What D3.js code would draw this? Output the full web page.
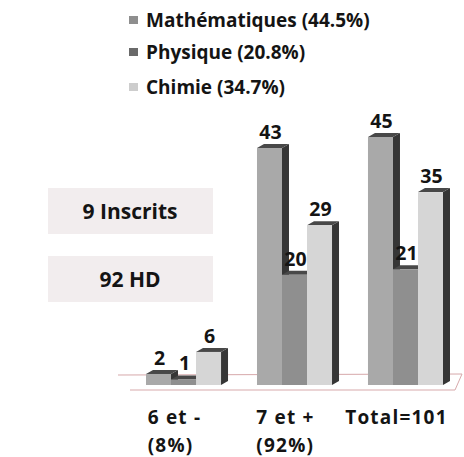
<!DOCTYPE html>
<html>
<head>
<meta charset="utf-8">
<script src="https://cdn.jsdelivr.net/npm/d3@7.9.0/dist/d3.min.js"></script>
<style>
  html, body { margin: 0; padding: 0; background: #fff; }
  svg { display: block; }
  text { font-family: "Open Sans", sans-serif; font-weight: bold; fill: #141414; }
</style>
</head>
<body>
<div id="chart"></div>
<script>
const categories = ['6 et -|(8%)', '7 et +|(92%)', 'Total=101'];
const series = ['Mathématiques (44.5%)', 'Physique (20.8%)', 'Chimie (34.7%)'];
const mathValues = [2, 43, 45];
const physValues = [1, 20, 21];
const chimValues = [6, 29, 35];
const infoBoxes = ['9 Inscrits', '92 HD'];

const width = 464, height = 457;
const svg = d3.select('#chart').append('svg')
  .attr('width', width)
  .attr('height', height);

const frontColors = ['#a9a9a9', '#8f8f8f', '#d6d6d6'];
const legendColors = ['#8e8e8e', '#6a6a6a', '#cdcdcd'];
const sideColor = '#363636';
const topColor = '#484848';
const depth = { dx: 7, dy: -4 };

const x0 = d3.scaleBand()
  .domain(categories)
  .range([146, 443])
  .paddingInner(0.324)
  .paddingOuter(0);

const x1 = d3.scaleBand()
  .domain(series)
  .range([0, x0.bandwidth()])
  .padding(0);

const y = d3.scaleLinear()
  .domain([0, 45])
  .range([385, 137]);

// floor
const floorBack = y(0) - 10;
const floorFront = y(0) + 5;
svg.append('path')
  .attr('d', `M118,${floorBack} L462,${floorBack - 1} L455,${floorFront} L130,${floorFront}`)
  .attr('fill', 'none')
  .attr('stroke', '#d7a9ab')
  .attr('stroke-width', 1);

// legend
const legend = svg.append('g').attr('transform', 'translate(129, 20)');
const legendRowY = [0, 32, 67];
series.forEach((s, i) => {
  const row = legend.append('g').attr('transform', `translate(0, ${legendRowY[i]})`);
  row.append('rect')
    .attr('x', 0).attr('y', -4)
    .attr('width', 9).attr('height', 8)
    .attr('fill', legendColors[i]);
  row.append('text')
    .attr('x', 17)
    .attr('y', 7)
    .attr('font-size', 19)
    .text(s);
});

// info boxes
const boxY = [188, 256];
infoBoxes.forEach((t, i) => {
  svg.append('rect')
    .attr('x', 48).attr('y', boxY[i])
    .attr('width', 165).attr('height', 46)
    .attr('fill', '#f2edee');
  svg.append('text')
    .attr('x', 130)
    .attr('y', boxY[i] + 31)
    .attr('text-anchor', 'middle')
    .attr('font-size', 21)
    .text(t);
});

// bars
const table = categories.map((c, i) => ({
  cat: c,
  vals: [mathValues[i], physValues[i], chimValues[i]]
}));

table.forEach(row => {
  const g = svg.append('g').attr('transform', `translate(${x0(row.cat)}, 0)`);
  row.vals.forEach((v, j) => {
    const bx = x1(series[j]);
    const bw = x1.bandwidth();
    const top = y(v);
    const base = y(0);
    // side face
    g.append('path')
      .attr('d', `M${bx + bw},${top} L${bx + bw + depth.dx},${top + depth.dy} L${bx + bw + depth.dx},${base + depth.dy} L${bx + bw},${base} Z`)
      .attr('fill', sideColor);
    // top face
    g.append('path')
      .attr('d', `M${bx},${top} L${bx + depth.dx},${top + depth.dy} L${bx + bw + depth.dx},${top + depth.dy} L${bx + bw},${top} Z`)
      .attr('fill', topColor);
    // front face
    g.append('rect')
      .attr('x', bx).attr('y', top)
      .attr('width', bw).attr('height', base - top)
      .attr('fill', frontColors[j]);
    g.append('text')
      .attr('x', bx + bw / 2 + 1)
      .attr('y', top - 9)
      .attr('text-anchor', 'middle')
      .attr('font-size', 19.5)
      .text(v);
  });
});

// category labels
categories.forEach(c => {
  const lines = c.split('|');
  const center = x0(c) + x0.bandwidth() / 2 - 9;
  const lbl = svg.append('text')
    .attr('font-size', 19)
    .attr('letter-spacing', 1.2)
    .attr('y', 424);
  lines.forEach((l, k) => {
    lbl.append('tspan')
      .attr('dy', k === 0 ? 0 : 28)
      .text(l);
  });
  const w = lbl.select('tspan').node().getComputedTextLength();
  lbl.selectAll('tspan').attr('x', center - w / 2);
});
</script>
</body>
</html>
